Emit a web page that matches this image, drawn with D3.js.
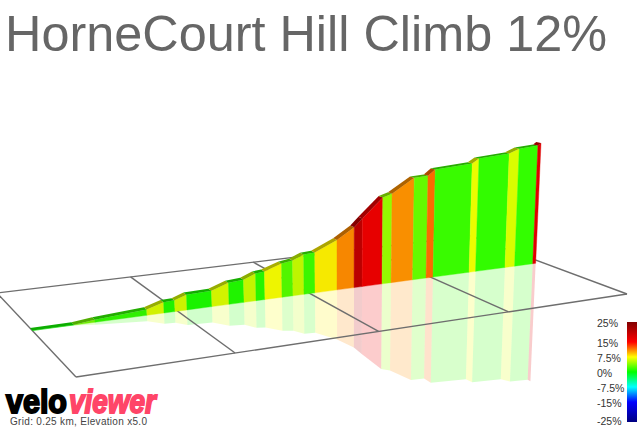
<!DOCTYPE html>
<html><head><meta charset="utf-8">
<script src="https://cdnjs.cloudflare.com/ajax/libs/d3/7.8.5/d3.min.js"></script>
<style>html,body{margin:0;padding:0;background:#fff}svg{display:block}</style>
</head><body><svg id="c" width="637" height="427"></svg>
<script>
const titleText = "HorneCourt Hill Climb 12%";
const captionText = "Grid: 0.25 km, Elevation x5.0";
// route: distance (km), elevation gain (m) at each sample, gradient (%) per segment
const distanceKm = [0,.0693,.1049,.1953,.2256,.2453,.267,.3128,.3444,.3727,.3954,.4125,.4453,.4667,.4883,.5101,.5541,.5886,.605,.6462,.6651,.7106,.7393,.7543,.8332,.8477,.914,.936,.978,.9848];
const elevationM = [0,.3,2.1,5,9.2,9.6,13.1,13.8,18.9,19.9,24,24.8,30,31.5,35.7,36.2,45.3,55.1,62.2,79.3,82,94.6,95.3,100.5,103,107,109.2,113.1,114.5,116.6];
const gradientPct = [.5,3.5,1.5,6.5,1,6.3,.8,6.5,1,6,1.2,7.3,2.5,5.8,1.8,7.9,10.9,20,16.3,4.5,10.7,3,11.8,1.7,7,1.5,6.4,1.5,17.5];
const gridKm = [0,.25,.5,.75,1];
const legendStops = [25,15,7.5,0,-7.5,-15,-25];
const legendLabels = ["25%","15%","7.5%","0%","-7.5%","-15%","-25%"];
const legendColors = ["#800000","#ff0000","#ffff00","#00ff00","#00ffff","#0000ff","#000080"];

const svg = d3.select("#c");
const color = d3.scaleLinear().domain(legendStops).range(legendColors).interpolate(d3.interpolateRgb);
const elevScale = d3.scaleLinear().domain([0,100]).range([0,136]);

// Ground plane homography from unit square (km, lateral)
const C = [[76,377],[627,294],[471,236],[-3,293]];
const [[x0,y0],[x1,y1],[x2,y2],[x3,y3]] = C;
const den = (x1-x2)*(y3-y2)-(x3-x2)*(y1-y2);
const sx = x0-x1+x2-x3, sy = y0-y1+y2-y3;
const g = (sx*(y3-y2)-(x3-x2)*sy)/den, h = ((x1-x2)*sy-sx*(y1-y2))/den;
const M = 0.00008;
function P(d,l,e){
  const w = 1+g*d+h*l;
  const bx = ((x1-x0+g*x1)*d+(x3-x0+h*x3)*l+x0)/w;
  const by = ((y1-y0+g*y1)*d+(y3-y0+h*y3)*l+y0)/w;
  const H = elevScale(e||0);
  const u = H/(w-M*H);
  return [bx+(bx-340)*u/4400, by-u];
}
const line = d3.line();
const poly = pts => line(pts)+"Z";
const WALL = 0.5, BACK = 0.53;
const segs = d3.range(gradientPct.length);

// reflection
svg.append("g").selectAll("path").data(segs).join("path")
  .attr("d",i=>poly([P(distanceKm[i],WALL,0),P(distanceKm[i+1],WALL,0),P(distanceKm[i+1],WALL,-elevationM[i+1]),P(distanceKm[i],WALL,-elevationM[i])]))
  .attr("fill",i=>color(gradientPct[i])).attr("fill-opacity",.2);

// grid
const gridG = svg.append("g").attr("fill","none").attr("stroke","#6e6e6e").attr("stroke-width",1.4);
gridKm.forEach(k=>gridG.append("path").attr("d",line([P(k,0),P(k,1)])));
[0,1].forEach(l=>gridG.append("path").attr("d",line([P(0,l),P(1,l)])));

// wall front
const shade = (c,f)=>{const r=d3.rgb(c);return d3.rgb(r.r*f,r.g*f,r.b*f).formatHex();};
svg.append("g").selectAll("path").data(segs).join("path")
  .attr("d",i=>poly([P(distanceKm[i],WALL,elevationM[i]),P(distanceKm[i+1],WALL,elevationM[i+1]),P(distanceKm[i+1],WALL,0),P(distanceKm[i],WALL,0)]))
  .attr("fill",i=>shade(color(gradientPct[i]),.93+.07*distanceKm[i]))
  .attr("stroke",i=>shade(color(gradientPct[i]),.93+.07*distanceKm[i])).attr("stroke-width",.4);
// wall top ribbon
svg.append("g").selectAll("path").data(segs).join("path")
  .attr("d",i=>poly([P(distanceKm[i],WALL,elevationM[i]),P(distanceKm[i+1],WALL,elevationM[i+1]),P(distanceKm[i+1],BACK,elevationM[i+1]),P(distanceKm[i],BACK,elevationM[i])]))
  .attr("fill",i=>shade(color(gradientPct[i]),.68));

// title
svg.append("text").attr("x",5).attr("y",51).attr("font-family","Liberation Sans, Arial, sans-serif")
  .attr("font-size",50.4).attr("fill","#666").text(titleText);

// legend
const legendY = d3.scaleLinear().domain([25,-25]).range([322,422]);
const defs = svg.append("defs");
const lg = defs.append("linearGradient").attr("id","lg").attr("x1",0).attr("x2",0).attr("y1",0).attr("y2",1);
legendStops.forEach((s,i)=>lg.append("stop").attr("offset",(legendY(s)-322)/100).attr("stop-color",legendColors[i]));
svg.append("rect").attr("x",627).attr("y",322).attr("width",10).attr("height",100).attr("fill","url(#lg)");
svg.append("g").selectAll("text").data(legendStops).join("text")
  .attr("x",597).attr("y",s=>Math.min(legendY(s)+5,424.5)).attr("font-family","Liberation Sans, Arial, sans-serif")
  .attr("font-size",10.5).attr("fill","#333").text((s,i)=>legendLabels[i]);

// logo
const logo = svg.append("g").attr("font-family","Liberation Sans, Arial, sans-serif").attr("font-weight",700).attr("font-size",33);
logo.append("text").attr("x",6).attr("y",412.5).attr("fill","#000").attr("stroke","#000").attr("stroke-width",2)
  .attr("textLength",61).attr("lengthAdjust","spacingAndGlyphs").text("velo");
logo.append("text").attr("x",69).attr("y",412.5).attr("fill","#ff4568").attr("stroke","#ff4568").attr("stroke-width",1.8)
  .attr("font-style","italic").attr("textLength",87).attr("lengthAdjust","spacingAndGlyphs").text("viewer");
svg.append("text").attr("x",10).attr("y",425).attr("font-family","Liberation Sans, Arial, sans-serif")
  .attr("font-size",10).attr("fill","#444").attr("textLength",137).text(captionText);
</script></body></html>
